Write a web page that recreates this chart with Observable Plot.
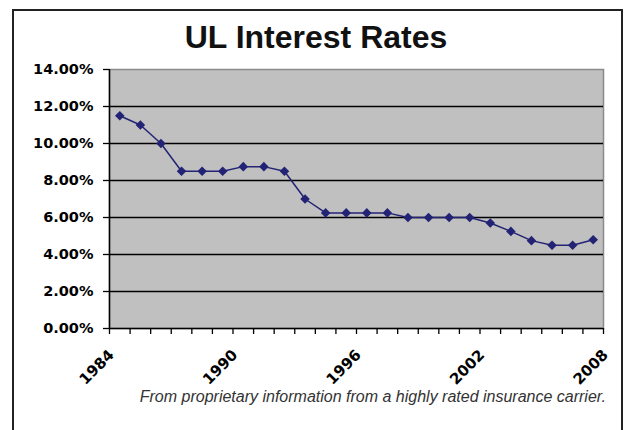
<!DOCTYPE html>
<html><head><meta charset="utf-8">
<script src="https://cdn.jsdelivr.net/npm/d3@7"></script>
<script src="https://cdn.jsdelivr.net/npm/@observablehq/plot@0.6"></script>
<style>
body{margin:0;background:#fff;}
#wrap{position:relative;width:627px;height:430px;overflow:hidden;font-family:"Liberation Sans",Arial,sans-serif;}
#box{position:absolute;left:12px;top:9px;width:607px;height:440px;border:2px solid #222;}
#title{position:absolute;left:0;width:632px;top:21px;text-align:center;font-weight:bold;font-size:32px;line-height:1;color:#111;}
#caption{position:absolute;right:21px;top:389px;font-style:italic;font-size:16px;line-height:1;color:#333;white-space:nowrap;}
#chart{position:absolute;left:0;top:0;}
</style></head>
<body>
<div id="wrap">
  <div id="box"></div>
  <div id="chart"></div>
  <div id="title">UL Interest Rates</div>
  <div id="caption">From proprietary information from a highly rated insurance carrier.</div>
</div>
<script>
const years = [1984,1985,1986,1987,1988,1989,1990,1991,1992,1993,1994,1995,1996,1997,1998,1999,2000,2001,2002,2003,2004,2005,2006,2007];
const rates = [11.5,11,10,8.5,8.5,8.5,8.75,8.75,8.5,7,6.25,6.25,6.25,6.25,6,6,6,6,5.7,5.25,4.75,4.5,4.5,4.8];
const tickYears = [1984,1985,1986,1987,1988,1989,1990,1991,1992,1993,1994,1995,1996,1997,1998,1999,2000,2001,2002,2003,2004,2005,2006,2007,2008];
const labelYears = [1984,1990,1996,2002,2008];
const yTicks = [0,2,4,6,8,10,12,14];

const data = years.map((y,i)=>({year:y, rate:rates[i]}));
const navy = "#232375";

const chart = Plot.plot({
  width:627, height:430,
  marginLeft:109, marginRight:24, marginTop:69, marginBottom:102,
  x:{domain:[1984,2008]},
  y:{domain:[0,14]},
  style:{background:"transparent", overflow:"visible", color:"#000"},
  marks:[
    Plot.frame({fill:"#c0c0c0", stroke:"#8a8a8a", strokeWidth:1.5}),
    Plot.gridY(yTicks.filter(v=>v>0 && v<14), {stroke:"#000", strokeOpacity:1, strokeWidth:1.3}),
    Plot.axisY(yTicks, {tickFormat:d=>d.toFixed(2)+"%", tickSize:6, tickPadding:10, fontSize:14.5, fontWeight:"bold", fontFamily:"DejaVu Sans", label:null, strokeWidth:1.3}),
    Plot.axisX(tickYears, {tickFormat:()=>"", tickSize:6, label:null, strokeWidth:1.3}),
    Plot.axisX(labelYears, {tickSize:0, tickPadding:24, tickRotate:-45, fontSize:15, fontWeight:"bold", fontFamily:"DejaVu Sans", label:null, tickFormat:d=>String(d), dx:2}),
    Plot.ruleX([1984], {stroke:"#000", strokeWidth:1.5}),
    Plot.ruleY([0], {stroke:"#000", strokeWidth:1.5}),
    Plot.line(data, {x:d=>d.year+0.5, y:"rate", stroke:navy, strokeWidth:1.5}),
    Plot.dot(data, {x:d=>d.year+0.5, y:"rate", symbol:"diamond2", r:4.3, fill:navy, stroke:null})
  ]
});
document.getElementById("chart").appendChild(chart);
</script>
</body></html>
